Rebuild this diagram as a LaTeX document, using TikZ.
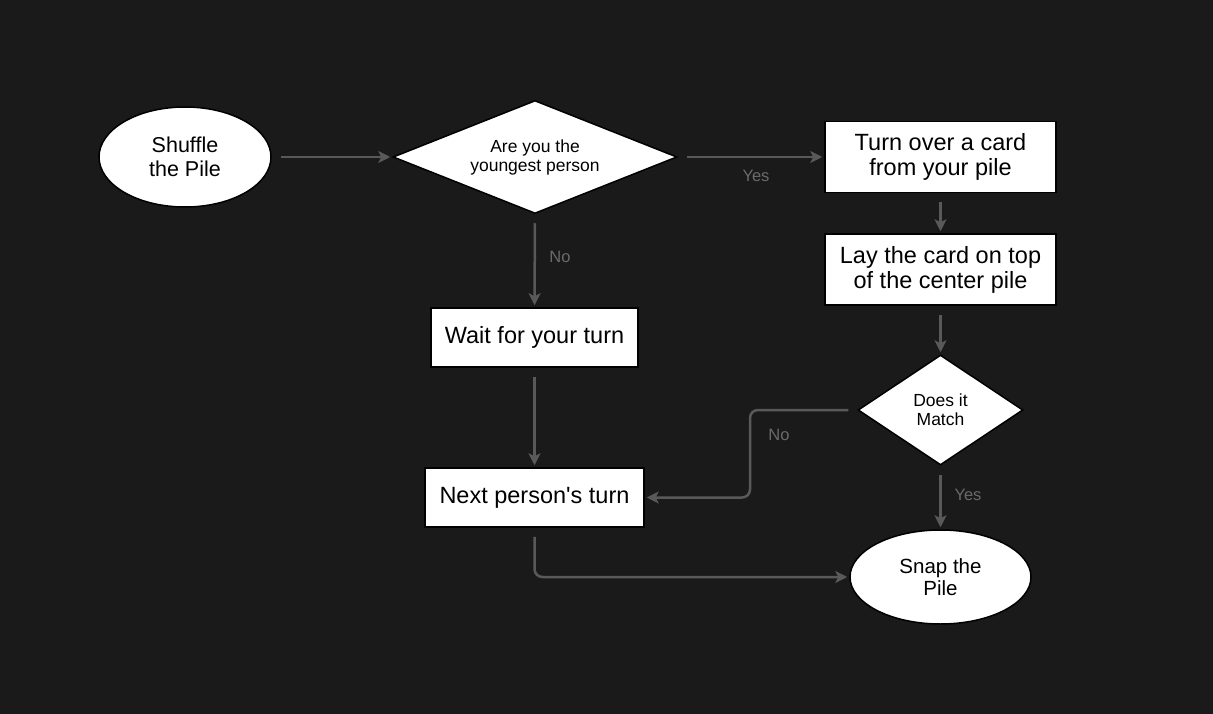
\documentclass[tikz,border=0pt]{standalone}
\usepackage{fontspec}
\setmainfont{Liberation Sans}
\usetikzlibrary{shapes.geometric,arrows.meta}
\definecolor{bg}{HTML}{1A1A1A}
\definecolor{ln}{HTML}{595959}
\definecolor{lbl}{HTML}{6A6A6A}
\begin{document}
\begin{tikzpicture}[x=1pt,y=-1pt,
  base/.style={draw=black,line width=1.5pt,fill=white,inner sep=0pt,align=center,text=black},
  term/.style={base,ellipse},
  box/.style={base,rectangle,font=\fontsize{23.5}{25}\selectfont},
  dec/.style={base,diamond},
  arr/.style={draw=ln,line width=2.5pt,-{Stealth[length=12pt,width=12pt,inset=3pt]},shorten <=9pt,shorten >=2pt},
  lab/.style={text=lbl,font=\fontsize{16.5}{18}\selectfont}]
\fill[bg] (0,0) rectangle (1213,714);
\useasboundingbox (0,0) rectangle (1213,714);
\node[term,minimum width=172pt,minimum height=100pt,font=\fontsize{21.5}{24}\selectfont] (shuf) at (185,157) {Shuffle\\the Pile};
\node[dec,shape aspect=2.5,minimum width=284pt,minimum height=113pt,font=\fontsize{17.5}{19}\selectfont] (young) at (535,157) {Are you the\\youngest person};
\node[box,minimum width=231pt,minimum height=71pt] (turn) at (940.5,157) {Turn over a card\\from your pile};
\node[box,minimum width=231pt,minimum height=71pt] (lay) at (940.5,269.5) {Lay the card on top\\of the center pile};
\node[dec,shape aspect=1.5,minimum width=165pt,minimum height=110pt,font=\fontsize{17.5}{19}\selectfont] (match) at (940.5,410) {Does it\\Match};
\node[term,minimum width=181pt,minimum height=94pt,font=\fontsize{20.5}{22}\selectfont] (snap) at (940.5,577) {Snap the\\Pile};
\node[box,minimum width=207pt,minimum height=59pt] (wait) at (534.5,337.5) {Wait for your turn};
\node[box,minimum width=219pt,minimum height=59pt] (next) at (534.5,497.5) {Next person\textquotesingle s turn};
\coordinate (bend) at (750,410);
\draw[arr] (shuf.east) -- (young.west);
\draw[arr] (young.east) -- (turn.west);
\node[lab] (l1) at (756,176) {Yes};
\draw[arr] (turn.south) -- (lay.north);
\draw[arr] (lay.south) -- (match.north);
\draw[arr] (young.south) -- (wait.north);
\node[lab] (l2) at (560,257) {No};
\draw[arr] (wait.south) -- (next.north);
\draw[arr,rounded corners=8pt] (match.west) -- (bend) -- (bend |- next.east) -- (next.east);
\node[lab] (l3) at (779,435) {No};
\draw[arr] (match.south) -- (snap.north);
\node[lab] (l4) at (968,495) {Yes};
\draw[arr,rounded corners=8pt] (next.south) -- (next.south |- snap.west) -- (snap.west);
\end{tikzpicture}
\end{document}
